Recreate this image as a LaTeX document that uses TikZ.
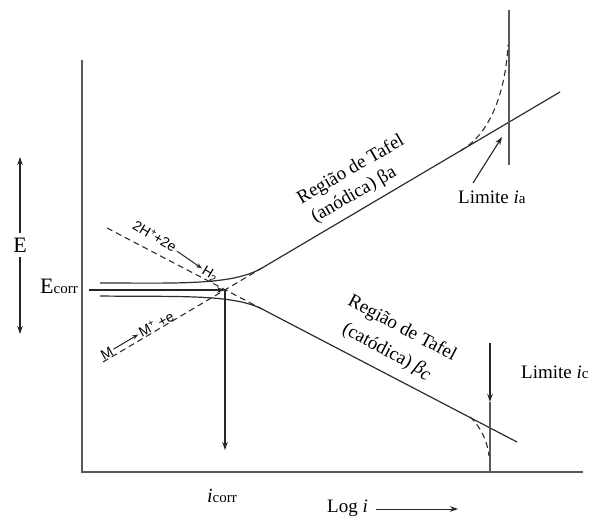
\documentclass[tikz,border=0pt]{standalone}
\usepackage{fontspec}
\setmainfont{Liberation Serif}
\setsansfont{Liberation Sans}
\usetikzlibrary{arrows.meta}
\begin{document}
\begin{tikzpicture}[x=1pt,y=-1pt,
  curve/.style={line width=1.2pt, draw=black!82},
  axisline/.style={line width=1.6pt, draw=black!65},
  dashline/.style={line width=1.1pt, dash pattern=on 6pt off 4pt, draw=black!82},
  arr/.style={line width=1.1pt, draw=black!85, -{Stealth[length=8pt,width=5.5pt]}},
  smallarr/.style={line width=1pt, draw=black!85, -{Stealth[length=6pt,width=4.5pt]}},
  lbl/.style={font=\fontsize{19}{23}\selectfont, inner sep=1pt},
  biglbl/.style={font=\fontsize{22}{24}\selectfont, inner sep=1pt},
  smalllbl/.style={font=\sffamily\fontsize{14}{16}\selectfont, inner sep=0.5pt},
]
\useasboundingbox (0,0) rectangle (592,519);
\fill[white] (0,0) rectangle (592,519);

% axes
\coordinate (axtop) at (82,60);
\coordinate (orig) at (82,472);
\coordinate (axend) at (583,472);
\draw[axisline] (axtop) -- (orig) -- (axend);

% key points
\coordinate (P) at (225,290);
\coordinate (a0) at (100,283);
\coordinate (a1) at (262,268);
\coordinate (a2) at (560,92);
\coordinate (c0) at (100,296);
\coordinate (c1) at (262,309);
\coordinate (c2) at (517,442);
\coordinate (m0) at (103,362);
\coordinate (h0) at (107,228);

% anodic and cathodic curves
\draw[curve] (a0) .. controls (175,283) and (232,285.7) .. (a1) -- (a2);
\draw[curve] (c0) .. controls (175,297) and (232,293.7) .. (c1) -- (c2);

% extrapolated dashed lines
\draw[dashline] (m0) -- (a1);
\draw[dashline] (h0) -- (c1);

% anodic limit
\coordinate (lat) at (509,10);
\coordinate (lab) at (509,165);
\draw[axisline, line width=1.5pt] (lat) -- (lab);
\coordinate (da0) at (460,151);
\coordinate (da1) at (508,45);
\draw[dashline] (da0) .. controls (486,137) and (505,100) .. (da1);

% cathodic limit
\coordinate (lct) at (490,402);
\coordinate (lcb) at (490,472);
\draw[axisline, line width=1.5pt] (lct) -- (lcb);
\coordinate (dc0) at (470,417);
\coordinate (dc1) at (489,456);
\draw[dashline] (dc0) .. controls (478,424) and (487,438) .. (dc1);

% labels
\node[biglbl, inner sep=5pt] (E) at (20,245) {E};
\coordinate (Etop) at (20,157);
\coordinate (Ebot) at (20,334);
\draw[arr] (E.north) -- (Etop);
\draw[arr] (E.south) -- (Ebot);

\node[inner sep=1pt] (ecorr) at (59,286) {{\fontsize{22}{24}\selectfont E}{\fontsize{15}{18}\selectfont corr}};
\coordinate (pbot) at (225,450);
\draw[arr] (ecorr.east |- P) [shorten <=10pt] -- (P);
\draw[arr] (P) -- (pbot);

\node[lbl] (icorr) at (222,496) {{\fontsize{20}{22}\selectfont\itshape i}{\fontsize{15}{18}\selectfont corr}};

\node[lbl, anchor=west] (log) at (326,508) {Log \textit{i}};
\coordinate (logend) at (458,509);
\draw[arr, line width=1pt] ([xshift=7pt]log.east |- logend) -- (logend);

\node[lbl, anchor=west] (la) at (457,197) {Limite \textit{i}{\fontsize{15}{18}\selectfont a}};
\coordinate (latail) at (473,183);
\coordinate (lahead) at (502,137);
\draw[arr] (latail) -- (lahead);

\node[lbl, anchor=west] (lc) at (520,372) {Limite \textit{i}{\fontsize{15}{18}\selectfont c}};
\coordinate (lcarrtail) at (490,343);
\draw[arr] (lcarrtail) -- (lct);

\node[lbl, rotate=30] (ta1) at (351,170) {Região de Tafel};
\node[lbl, rotate=30] (ta2) at (354,195) {(anódica) βa};
\node[lbl, rotate=-28] (tc1) at (402,329) {Região de Tafel};
\node[lbl, rotate=-28] (tc2) at (387,352) {(catódica) \textit{β}\raisebox{-3pt}{\textit{c}}};

\node[smalllbl, rotate=-31] (h1) at (155,236) {2H\textsuperscript{+}+2e};
\node[smalllbl, rotate=-31] (h2) at (210,274) {H\textsubscript{2}};
\draw[smallarr, shorten <=2pt, shorten >=1pt] (h1) -- (h2);

\node[smalllbl, rotate=29] (m1) at (107,353) {M};
\node[smalllbl, rotate=29] (m2) at (156,324) {M\textsuperscript{+} +e};
\draw[smallarr, shorten <=1pt, shorten >=1pt] (m1) -- (m2);
\end{tikzpicture}
\end{document}
